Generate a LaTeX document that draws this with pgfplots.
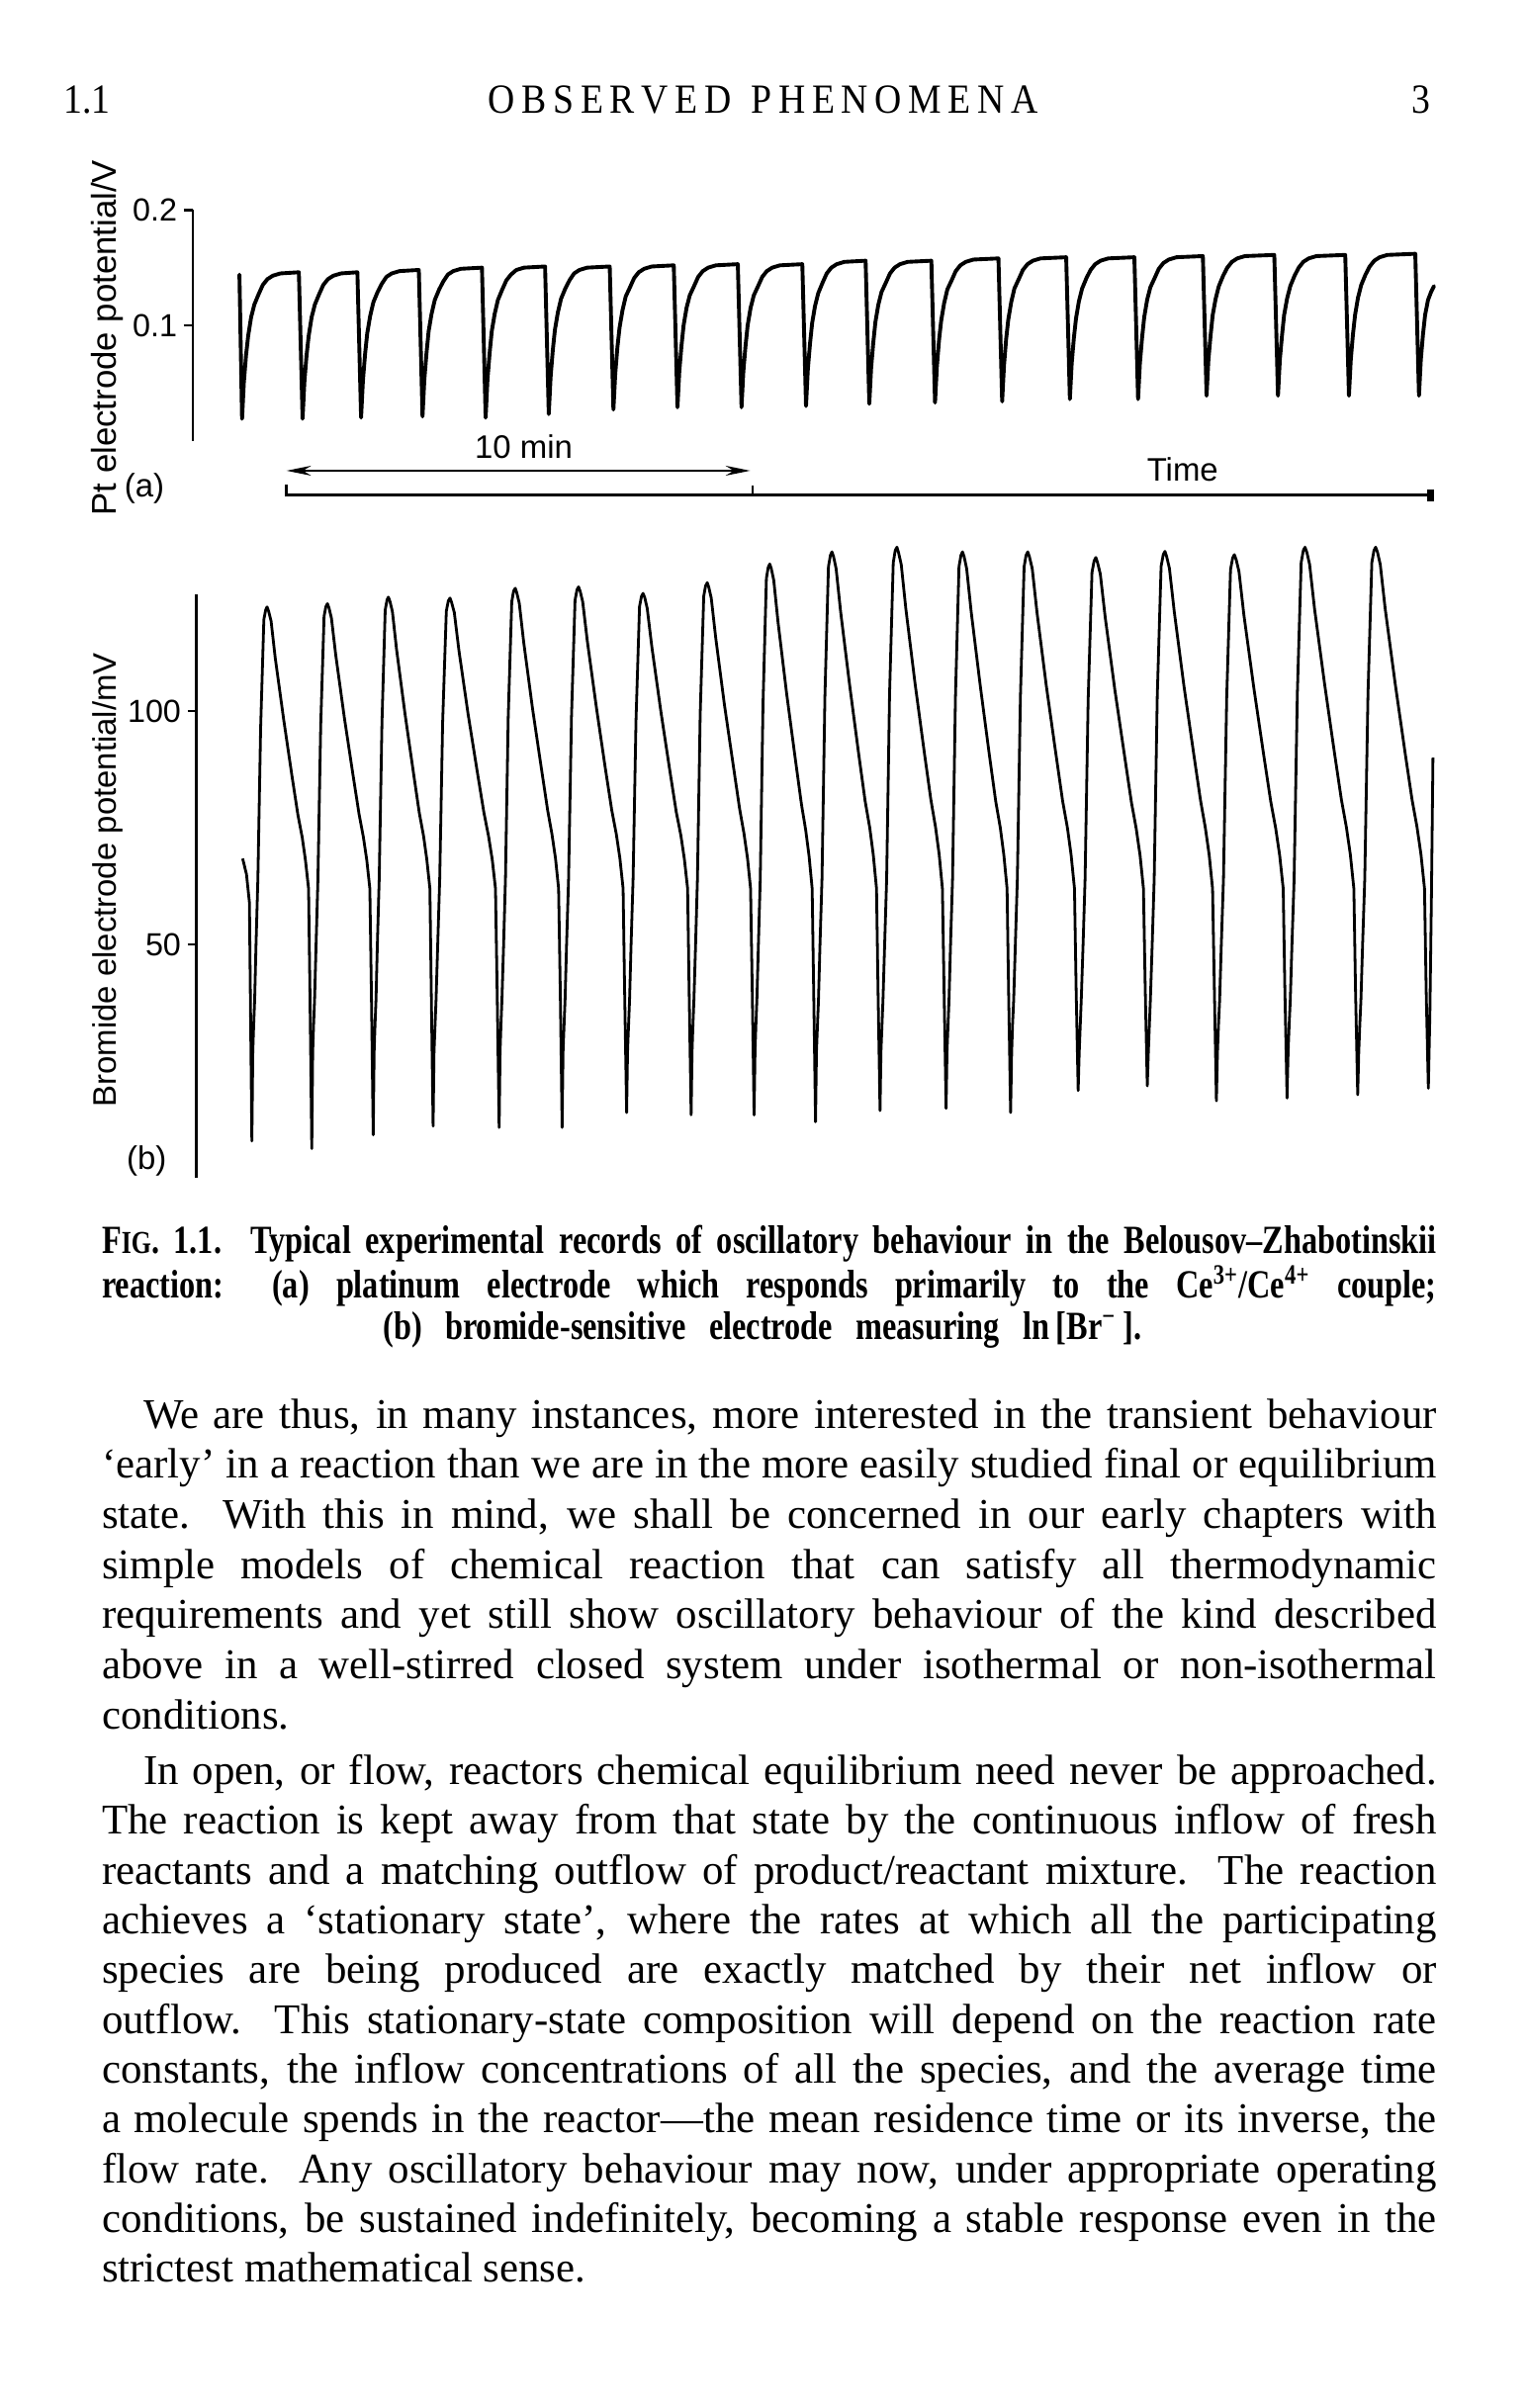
\documentclass[border=0pt]{standalone}
\usepackage{fontspec}
\setmainfont{Liberation Serif}
\setsansfont{Liberation Sans}
\newfontfamily\capfont[FakeStretch=0.8]{Liberation Serif}
\newfontfamily\headfont[FakeStretch=0.9]{Liberation Serif}
\usepackage{pgfplots}
\pgfplotsset{compat=1.18}
\usetikzlibrary{arrows.meta}
\begin{document}
\begin{tikzpicture}[x=0.5pt,y=-0.5pt]
\fill[white] (0,0) rectangle (994,1568);
\path[use as bounding box] (0,0) rectangle (994,1568);
\coordinate (PA) at (125.5,287);
\coordinate (PB) at (128,767);
\tikzset{
 body/.style={anchor=base west,inner sep=0pt,font=\fontsize{13.8}{16}\selectfont},
 captxt/.style={anchor=base west,inner sep=0pt,font=\capfont\bfseries\fontsize{13}{15}\selectfont},
 lab/.style={inner sep=0pt,font=\sffamily\fontsize{10.6}{12}\selectfont}
}
% header
\node[anchor=base west,inner sep=0pt,font=\headfont\fontsize{13.5}{16}\selectfont] at (41,74) {1.1};
\node[anchor=base,inner sep=0pt,font=\headfont\fontsize{13.5}{16}\selectfont] at (497,74) {\makebox[179pt]{O\hfill B\hfill S\hfill E\hfill R\hfill V\hfill E\hfill D\hfill\hfill\hfill P\hfill H\hfill E\hfill N\hfill O\hfill M\hfill E\hfill N\hfill A}};
\node[anchor=base east,inner sep=0pt,font=\headfont\fontsize{13.5}{16}\selectfont] at (932,74) {3};

% panel (a)
\begin{axis}[at={(PA)}, anchor=south west, scale only axis,
 width=404.5pt, height=75.15pt, xmin=125.5, xmax=934.5, ymin=0, ymax=0.2,
 clip=false, hide x axis, axis y line=left, axis line style={-}, y axis line style={-, line width=0.85pt},
 ytick={0.1,0.2}, yticklabels={\textsf{0.1},\textsf{0.2}}, tick align=outside,
 major tick length=2.9pt, ytick style={line width=0.85pt, black},
 yticklabel style={font=\sffamily\fontsize{10.4}{12}\selectfont, inner sep=2pt}]
\addplot[black, line width=1.25pt, line join=round, line cap=round] coordinates {
(155.9,0.144)
(157.6,0.019)(158.8,0.051)(160.2,0.074)(161.6,0.091)(163.5,0.107)(165.6,0.118)(168.4,0.127)(171.1,0.135)(174.1,0.140)(177.6,0.143)(182.6,0.145)(194.6,0.146)
(197.0,0.019)(198.2,0.051)(199.6,0.074)(201.0,0.091)(202.9,0.107)(205.0,0.118)(207.8,0.127)(210.5,0.135)(213.5,0.140)(217.0,0.143)(222.0,0.145)(232.7,0.146)
(235.1,0.020)(236.3,0.052)(237.7,0.075)(239.1,0.093)(241.0,0.108)(243.1,0.120)(245.9,0.129)(248.6,0.136)(251.6,0.142)(255.1,0.145)(260.1,0.147)(272.7,0.148)
(275.1,0.021)(276.3,0.053)(277.7,0.076)(279.1,0.095)(281.0,0.110)(283.1,0.122)(285.9,0.131)(288.6,0.138)(291.6,0.144)(295.1,0.147)(300.1,0.149)(313.8,0.150)
(316.2,0.020)(317.4,0.053)(318.8,0.076)(320.2,0.095)(322.1,0.110)(324.2,0.122)(327.0,0.131)(329.7,0.139)(332.7,0.144)(336.2,0.148)(341.2,0.150)(354.9,0.151)
(357.3,0.023)(358.5,0.055)(359.9,0.078)(361.3,0.096)(363.2,0.111)(365.3,0.123)(368.1,0.132)(370.8,0.139)(373.8,0.145)(377.3,0.148)(382.3,0.150)(397.0,0.151)
(399.4,0.027)(400.6,0.058)(402.0,0.081)(403.4,0.098)(405.3,0.113)(407.4,0.125)(410.2,0.133)(412.9,0.141)(415.9,0.146)(419.4,0.149)(424.4,0.151)(438.7,0.152)
(441.1,0.029)(442.3,0.060)(443.7,0.082)(445.1,0.100)(447.0,0.115)(449.1,0.126)(451.9,0.134)(454.6,0.142)(457.6,0.147)(461.1,0.150)(466.1,0.152)(480.4,0.153)
(482.8,0.029)(484.0,0.060)(485.4,0.082)(486.8,0.100)(488.7,0.115)(490.8,0.126)(493.6,0.134)(496.3,0.142)(499.3,0.147)(502.8,0.150)(507.8,0.152)(522.4,0.153)
(524.8,0.030)(526.0,0.062)(527.4,0.084)(528.8,0.102)(530.7,0.117)(532.8,0.128)(535.6,0.137)(538.3,0.145)(541.3,0.150)(544.8,0.153)(549.8,0.155)(563.6,0.156)
(566.0,0.032)(567.2,0.063)(568.6,0.085)(570.0,0.103)(571.9,0.118)(574.0,0.129)(576.8,0.137)(579.5,0.145)(582.5,0.150)(586.0,0.153)(591.0,0.155)(606.4,0.156)
(608.8,0.033)(610.0,0.064)(611.4,0.087)(612.8,0.104)(614.7,0.119)(616.8,0.131)(619.6,0.139)(622.3,0.147)(625.3,0.152)(628.8,0.155)(633.8,0.157)(650.1,0.158)
(652.5,0.034)(653.7,0.065)(655.1,0.088)(656.5,0.105)(658.4,0.120)(660.5,0.132)(663.3,0.140)(666.0,0.148)(669.0,0.153)(672.5,0.156)(677.5,0.158)(694.2,0.159)
(696.6,0.036)(697.8,0.067)(699.2,0.089)(700.6,0.106)(702.5,0.121)(704.6,0.132)(707.4,0.141)(710.1,0.148)(713.1,0.153)(716.6,0.156)(721.6,0.158)(738.6,0.159)
(741.0,0.036)(742.2,0.067)(743.6,0.089)(745.0,0.107)(746.9,0.122)(749.0,0.133)(751.8,0.141)(754.5,0.149)(757.5,0.154)(761.0,0.157)(766.0,0.159)(783.2,0.160)
(785.6,0.039)(786.8,0.070)(788.2,0.091)(789.6,0.109)(791.5,0.123)(793.6,0.134)(796.4,0.143)(799.1,0.150)(802.1,0.155)(805.6,0.158)(810.6,0.160)(829.7,0.161)
(832.1,0.039)(833.3,0.070)(834.7,0.091)(836.1,0.109)(838.0,0.123)(840.1,0.134)(842.9,0.143)(845.6,0.150)(848.6,0.155)(852.1,0.158)(857.1,0.160)(875.9,0.161)
(878.3,0.039)(879.5,0.070)(880.9,0.092)(882.3,0.109)(884.2,0.124)(886.3,0.135)(889.1,0.144)(891.8,0.151)(894.8,0.156)(898.3,0.159)(903.3,0.161)(921.5,0.162)
(923.9,0.039)(925.1,0.070)(926.5,0.092)(927.9,0.109)(929.8,0.122)(931.8,0.129)(933.7,0.134)
};
\end{axis}

% panel (b)
\begin{axis}[at={(PB)}, anchor=south west, scale only axis,
 width=403.25pt, height=190pt, xmin=128, xmax=934.5, ymin=0, ymax=125,
 clip=false, hide x axis, axis y line=left, axis line style={-}, y axis line style={-, line width=0.85pt},
 ytick={50,100}, yticklabels={\textsf{50},\textsf{100}}, tick align=outside,
 major tick length=2.9pt, ytick style={line width=0.85pt, black},
 yticklabel style={font=\sffamily\fontsize{10.4}{12}\selectfont, inner sep=2pt}]
\addplot[black, line width=0.9pt, line join=round] coordinates {
(158,68.4)(160.5,65)(162.4,59)
(164,7.9)(164.6,27)(165.2,33)(165.8,38)(166.7,50)(167.9,64)(169.7,96.4)(171.8,119.6)(173.0,121.7)(173.9,122.3)(174.9,121.4)(176.5,119.3)(179.2,111.4)(184.7,98.2)(190.1,86.1)(194.0,77.7)(196.8,72.9)(198.9,68.0)(200.9,62)(201.8,40)
(203,6.3)(203.6,27)(204.2,33)(204.8,38)(205.8,50)(207.0,64)(208.8,96.8)(211.0,120.3)(212.2,122.4)(213.2,123.0)(214.2,122.1)(215.8,119.9)(218.6,112.0)(224.2,98.6)(229.8,86.4)(233.8,77.9)(236.6,73.0)(238.8,68.1)(240.8,62)(241.8,40)
(243,9.2)(243.6,27)(244.2,33)(244.8,38)(245.7,50)(246.9,64)(248.7,97.6)(250.8,121.6)(252.0,123.8)(252.9,124.4)(253.9,123.5)(255.5,121.3)(258.2,113.2)(263.7,99.4)(269.1,87.0)(273.0,78.2)(275.8,73.2)(277.9,68.2)(279.9,62)(280.8,40)
(282,11.1)(282.6,27)(283.3,33)(283.9,38)(285.0,50)(286.3,64)(288.2,97.5)(290.6,121.4)(291.9,123.6)(293.0,124.2)(294.0,123.3)(295.8,121.1)(298.8,113.0)(304.8,99.3)(310.8,86.9)(315.1,78.2)(318.1,73.2)(320.5,68.2)(322.6,62)(323.7,40)
(325,10.8)(325.6,27)(326.2,33)(326.8,38)(327.9,50)(329.1,64)(330.9,98.7)(333.2,123.4)(334.4,125.7)(335.5,126.3)(336.5,125.3)(338.1,123.1)(341.0,114.7)(346.7,100.6)(352.5,87.7)(356.6,78.7)(359.4,73.6)(361.7,68.4)(363.7,62)(364.8,40)
(366,10.8)(366.6,27)(367.3,33)(367.9,38)(368.9,50)(370.2,64)(372.1,98.8)(374.4,123.7)(375.7,126.0)(376.7,126.6)(377.8,125.6)(379.4,123.4)(382.4,115.0)(388.3,100.8)(394.1,87.8)(398.3,78.8)(401.3,73.6)(403.6,68.5)(405.7,62)(406.7,40)
(408,14.0)(408.6,27)(409.3,33)(409.9,38)(410.9,50)(412.2,64)(414.1,98.0)(416.4,122.4)(417.7,124.6)(418.7,125.2)(419.8,124.3)(421.4,122.0)(424.4,113.8)(430.3,99.9)(436.1,87.3)(440.3,78.4)(443.3,73.4)(445.6,68.3)(447.7,62)(448.7,40)
(450,13.5)(450.6,27)(451.2,33)(451.8,38)(452.9,50)(454.1,64)(455.9,99.3)(458.2,124.6)(459.4,126.8)(460.5,127.5)(461.5,126.5)(463.1,124.2)(466.0,115.7)(471.7,101.3)(477.5,88.2)(481.6,79.0)(484.4,73.8)(486.7,68.5)(488.7,62)(489.8,40)
(491,13.5)(491.6,27)(492.2,33)(492.8,38)(493.8,50)(495.0,64)(496.8,101.6)(499.0,128.4)(500.2,130.8)(501.2,131.5)(502.2,130.5)(503.8,128.0)(506.6,119.0)(512.2,103.7)(517.8,89.8)(521.8,80.1)(524.6,74.5)(526.8,68.9)(528.8,62)(529.8,40)
(531,12.0)(531.6,27)(532.3,33)(532.9,38)(533.9,50)(535.2,64)(537.1,103.1)(539.4,130.9)(540.7,133.4)(541.7,134.1)(542.8,133.0)(544.4,130.5)(547.4,121.1)(553.3,105.3)(559.1,90.8)(563.3,80.7)(566.3,75.0)(568.6,69.2)(570.7,62)(571.7,40)
(573,14.4)(573.6,27)(574.3,33)(574.9,38)(576.0,50)(577.3,64)(579.2,103.7)(581.6,131.8)(582.9,134.4)(584.0,135.1)(585.0,134.0)(586.8,131.4)(589.8,121.9)(595.8,105.9)(601.8,91.2)(606.1,81.0)(609.1,75.2)(611.5,69.3)(613.6,62)(614.7,40)
(616,14.9)(616.6,27)(617.3,33)(617.9,38)(618.9,50)(620.2,64)(622.1,103.1)(624.4,130.9)(625.7,133.4)(626.7,134.1)(627.8,133.0)(629.4,130.5)(632.4,121.1)(638.3,105.3)(644.1,90.8)(648.3,80.7)(651.3,75.0)(653.6,69.2)(655.7,62)(656.7,40)
(658,14.0)(658.7,27)(659.3,33)(660.0,38)(661.1,50)(662.4,64)(664.4,103.1)(666.8,130.9)(668.1,133.4)(669.2,134.1)(670.3,133.0)(672.1,130.5)(675.2,121.1)(681.3,105.3)(687.5,90.8)(691.9,80.7)(695.0,75.0)(697.4,69.2)(699.6,62)(700.7,40)
(702,18.7)(702.7,27)(703.4,33)(704.0,38)(705.2,50)(706.5,64)(708.5,102.4)(711.0,129.7)(712.4,132.2)(713.5,132.9)(714.6,131.8)(716.4,129.4)(719.6,120.1)(725.9,104.5)(732.2,90.4)(736.7,80.4)(739.8,74.8)(742.3,69.1)(744.5,62)(745.7,40)
(747,19.7)(747.7,27)(748.4,33)(749.0,38)(750.2,50)(751.5,64)(753.5,103.2)(756.0,131.0)(757.4,133.5)(758.5,134.2)(759.6,133.1)(761.4,130.6)(764.6,121.2)(770.9,105.3)(777.2,90.9)(781.7,80.8)(784.8,75.0)(787.3,69.2)(789.5,62)(790.7,40)
(792,16.5)(792.7,27)(793.4,33)(794.1,38)(795.2,50)(796.6,64)(798.7,102.8)(801.2,130.3)(802.6,132.8)(803.7,133.5)(804.9,132.4)(806.7,129.9)(809.9,120.6)(816.4,104.9)(822.8,90.6)(827.4,80.6)(830.6,74.9)(833.2,69.1)(835.5,62)(836.6,40)
(838,17.1)(838.7,27)(839.4,33)(840.1,38)(841.2,50)(842.6,64)(844.7,103.7)(847.2,131.8)(848.6,134.4)(849.7,135.1)(850.9,134.0)(852.7,131.4)(855.9,121.9)(862.4,105.9)(868.8,91.2)(873.4,81.0)(876.6,75.2)(879.2,69.3)(881.5,62)(882.6,40)
(884,17.8)(884.7,27)(885.4,33)(886.1,38)(887.2,50)(888.6,64)(890.7,103.7)(893.2,131.8)(894.6,134.4)(895.7,135.1)(896.9,134.0)(898.7,131.4)(901.9,121.9)(908.4,105.9)(914.8,91.2)(919.4,81.0)(922.6,75.2)(925.2,69.3)(927.5,62)(928.6,40)
(930,19.2)(931,35)(932,60)(933,90)
};
\end{axis}

% labels of the figure
\node[lab,rotate=90,font=\sffamily\fontsize{11.2}{13}\selectfont] at (70,220) {Pt electrode potential/V};
\node[lab] at (94,318) {(a)};
\node[lab,rotate=90] at (70,573) {Bromide electrode potential/mV};
\node[lab] at (95.5,756) {(b)};
\node[lab] at (341,291) {10 min};
\node[lab] at (770,306) {Time};
\draw[line width=0.8pt,{Stealth[length=8pt,width=3.2pt]}-{Stealth[length=8pt,width=3.2pt]}] (186.5,306.5) -- (488.5,306.5);
\draw[line width=0.9pt] (186.5,315.5) -- (186.5,322.5) -- (930,322.5);
\draw[line width=0.9pt] (490,316) -- (490,322.5);
\fill (929,319) rectangle (933.5,326.5);

% caption
\node[captxt] at (66,816) {\makebox[434.5pt][s]{F{\fontsize{10.4}{11}\selectfont IG}. 1.1.\ \ Typical experimental records of oscillatory behaviour in the Belousov–Zhabotinskii}};
\node[captxt] at (66,845) {\makebox[434.5pt][s]{reaction: (a) platinum electrode which responds primarily to the Ce\textsuperscript{3+}/Ce\textsuperscript{4+} couple;}};
\node[captxt] at (249,872) {\makebox[247pt][s]{(b) bromide-sensitive electrode measuring ln\,[Br\textsuperscript{−}\,].}};

% body text
\node[body] at (93,930) {\makebox[421pt][s]{We are thus, in many instances, more interested in the transient behaviour}};
\node[body] at (66,962.6) {\makebox[434.5pt][s]{‘early’ in a reaction than we are in the more easily studied final or equilibrium}};
\node[body] at (66,995.2) {\makebox[434.5pt][s]{state. With this in mind, we shall be concerned in our early chapters with}};
\node[body] at (66,1027.8) {\makebox[434.5pt][s]{simple models of chemical reaction that can satisfy all thermodynamic}};
\node[body] at (66,1060.4) {\makebox[434.5pt][s]{requirements and yet still show oscillatory behaviour of the kind described}};
\node[body] at (66,1093) {\makebox[434.5pt][s]{above in a well-stirred closed system under isothermal or non-isothermal}};
\node[body] at (66,1125.6) {conditions.};
\node[body] at (93,1162) {\makebox[421pt][s]{In open, or flow, reactors chemical equilibrium need never be approached.}};
\node[body] at (66,1194.4) {\makebox[434.5pt][s]{The reaction is kept away from that state by the continuous inflow of fresh}};
\node[body] at (66,1226.8) {\makebox[434.5pt][s]{reactants and a matching outflow of product/reactant mixture. The reaction}};
\node[body] at (66,1259.2) {\makebox[434.5pt][s]{achieves a ‘stationary state’, where the rates at which all the participating}};
\node[body] at (66,1291.6) {\makebox[434.5pt][s]{species are being produced are exactly matched by their net inflow or}};
\node[body] at (66,1324) {\makebox[434.5pt][s]{outflow. This stationary-state composition will depend on the reaction rate}};
\node[body] at (66,1356.4) {\makebox[434.5pt][s]{constants, the inflow concentrations of all the species, and the average time}};
\node[body] at (66,1388.8) {\makebox[434.5pt][s]{a molecule spends in the reactor—the mean residence time or its inverse, the}};
\node[body] at (66,1421.2) {\makebox[434.5pt][s]{flow rate. Any oscillatory behaviour may now, under appropriate operating}};
\node[body] at (66,1453.6) {\makebox[434.5pt][s]{conditions, be sustained indefinitely, becoming a stable response even in the}};
\node[body] at (66,1486) {strictest mathematical sense.};
\end{tikzpicture}
\end{document}
